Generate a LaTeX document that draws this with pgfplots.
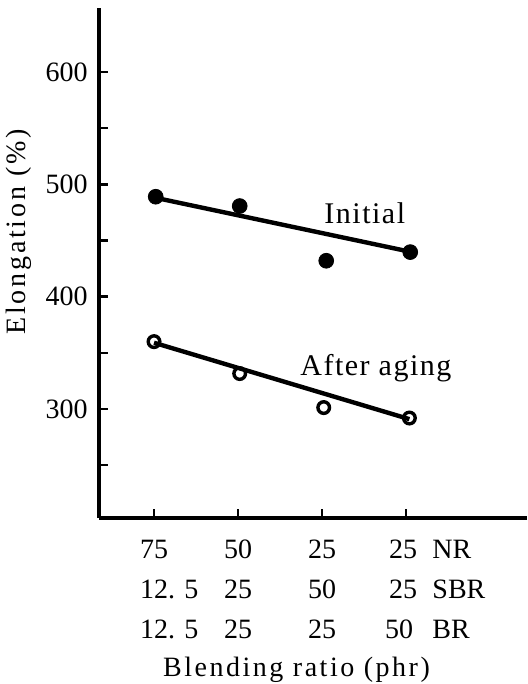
\documentclass[border=0pt]{standalone}
\usepackage{fontspec}
\setmainfont{Liberation Serif}
\newfontfamily\lsA[LetterSpace=9]{Liberation Serif}
\newfontfamily\lsB[LetterSpace=5]{Liberation Serif}
\newfontfamily\lsD[LetterSpace=10]{Liberation Serif}
\usepackage{pgfplots}
\pgfplotsset{compat=1.18}
\newcommand{\tickfont}{\fontsize{14}{20}\selectfont}
\begin{document}
\begin{tikzpicture}
\begin{axis}[
  name=ax,
  scale only axis,
  width=214pt, height=255pt,
  xmin=0.345, xmax=5.44, ymin=203, ymax=657,
  axis lines=left,
  axis line style={-, line width=1.6pt},
  clip=false,
  xtick={1,2,3,4},
  xticklabels={
    {\makebox[0pt][l]{\hspace*{-7pt}\begin{tabular}{@{}l@{}}75\\12. 5\\12. 5\end{tabular}}},
    {\begin{tabular}{@{}c@{}}50\\25\\25\end{tabular}},
    {\begin{tabular}{@{}c@{}}25\\50\\25\end{tabular}},
    {\makebox[0pt][r]{\begin{tabular}{@{}r@{}}25\\25\\50\hspace*{2pt}\end{tabular}\hspace*{-5.5pt}}}},
  xticklabel style={font=\tickfont, inner sep=0pt, anchor=north, yshift=-6pt},
  ytick={300,400,500,600},
  minor ytick={250,350,450,550},
  yticklabel style={font=\fontsize{14}{16}\selectfont, inner sep=0pt, anchor=east, xshift=-5.5pt},
  /pgf/number format/assume math mode=true,
  tick align=inside,
  major tick length=4.5pt, minor tick length=4.5pt,
  tick style={black, line width=1.2pt},
]
\addplot[black, line width=2.2pt] coordinates {(1.02,488) (4.05,440)};
\addplot[black, line width=2.2pt] coordinates {(1.0,359) (4.04,291)};
\addplot[only marks, mark=*, mark size=3.7pt, black] coordinates {(1.02,489) (2.02,480.7) (3.05,432) (4.05,439.7)};
\addplot[only marks, mark=o, mark size=2.9pt, black, line width=1.7pt] coordinates {(1.0,360) (2.02,331.6) (3.02,301.3) (4.04,292)};
\node[anchor=north west, font=\tickfont, inner sep=0pt, yshift=-6pt] at (axis cs:4.31,203) {\begin{tabular}{@{}l@{}}NR\\SBR\\BR\end{tabular}};
\node[anchor=base, font=\lsA\fontsize{14}{16}\selectfont, inner sep=0pt] at (axis cs:2.696,62.2) {Blending ratio (phr)};
\node[rotate=90, anchor=base, font=\lsD\fontsize{14}{16}\selectfont, inner sep=0pt] at (axis cs:-0.524,457.5) {Elongation (\%)};
\node[anchor=base west, font=\lsB\fontsize{15}{18}\selectfont, inner sep=0pt] at (axis cs:3.024,465.5) {Initial};
\node[anchor=base west, font=\lsB\fontsize{15}{18}\selectfont, inner sep=0pt] at (axis cs:2.738,330.2) {After aging};
\end{axis}
\pgfresetboundingbox
\path ([xshift=-49.5pt,yshift=-83pt]ax.south west) rectangle ([yshift=4pt]ax.north east);
\end{tikzpicture}
\end{document}
